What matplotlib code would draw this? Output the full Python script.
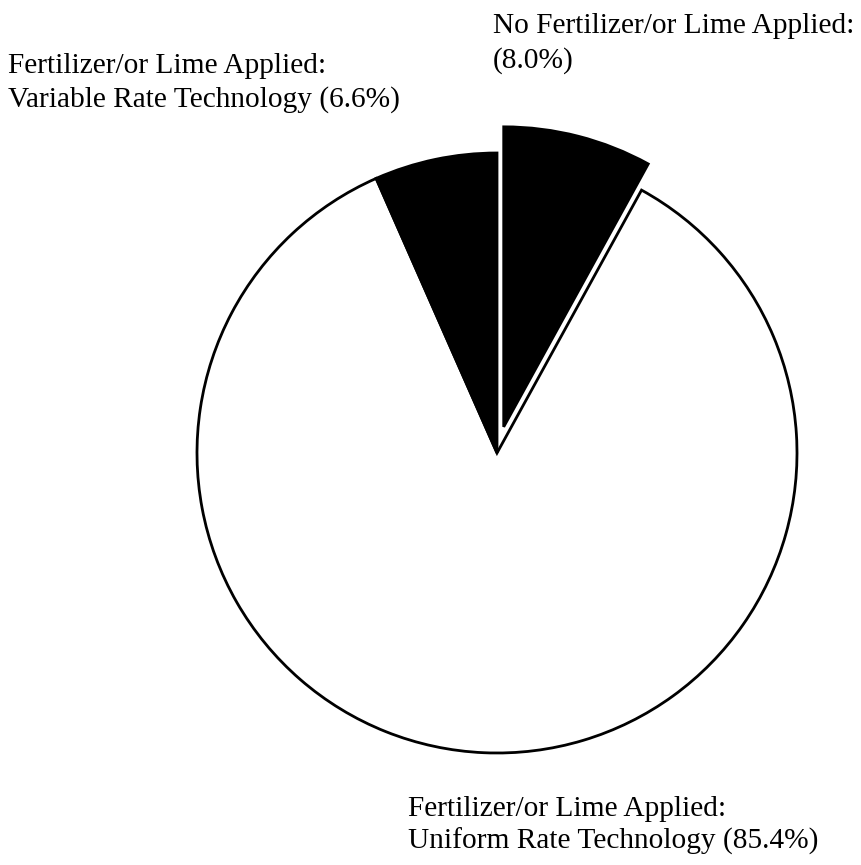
import matplotlib
matplotlib.use("Agg")
import matplotlib.pyplot as plt

categories = ["No Fertilizer/or Lime Applied:", "Fertilizer/or Lime Applied:\nUniform Rate Technology", "Fertilizer/or Lime Applied:\nVariable Rate Technology"]
values = [8.0, 85.4, 6.6]
colors = ["black", "white", "black"]
explode = [0.09, 0, 0]

W, H = 862, 865
fig = plt.figure(figsize=(W / 100, H / 100), dpi=100)
ax = fig.add_axes([0, 0, 1, 1])
ax.axis("off")

cx, cy, R = 497, 453, 300
ax.pie(values, colors=colors, explode=explode, startangle=90, counterclock=False,
       radius=1, center=(0, 0),
       wedgeprops=dict(edgecolor="black", linewidth=2))
ax.set_xlim(-cx / R, (W - cx) / R)
ax.set_ylim(-(H - cy) / R, cy / R)
ax.set_aspect("equal")

font = dict(family="Liberation Serif", fontsize=21.2, color="black")
labels = [
    f"No Fertilizer/or Lime Applied:\n({values[0]:.1f}%)",
    f"Fertilizer/or Lime Applied:\nUniform Rate Technology ({values[1]:.1f}%)",
    f"Fertilizer/or Lime Applied:\nVariable Rate Technology ({values[2]:.1f}%)",
]
# left x and baselines (pixels from top) of each label's lines
pos = [(493, [33, 68]), (408, [816, 849]), (8, [73, 107])]
for lab, (x, ys) in zip(labels, pos):
    for line, y in zip(lab.split("\n"), ys):
        fig.text(x / W, 1 - y / H, line, ha="left", va="baseline", **font)

fig.savefig("out.png", dpi=100, facecolor="white")
